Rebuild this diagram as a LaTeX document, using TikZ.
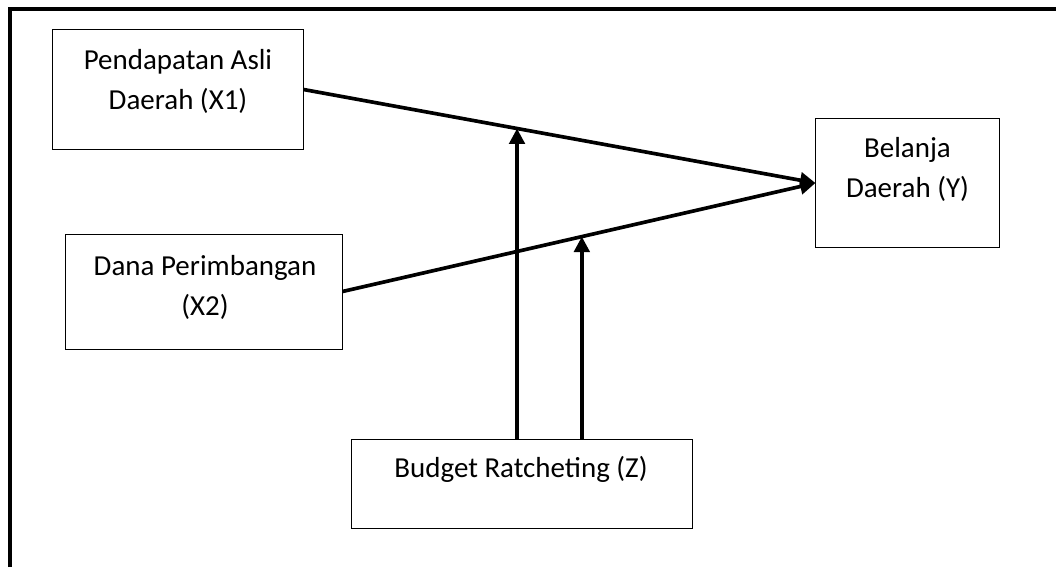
\documentclass[tikz,border=0pt]{standalone}
\usepackage{fontspec}
\setmainfont{Carlito}
\usepackage{tikz}
\usetikzlibrary{positioning}
\usetikzlibrary{calc}
\usetikzlibrary{arrows, arrows.meta}
\tikzstyle{box} = [rectangle, draw=black, line width=0.7pt, inner sep=0pt]
\tikzstyle{txt} = [align=center, inner sep=0pt, font=\fontsize{20.6}{28.4}\selectfont]
\tikzstyle{arrow} = [line width=2.6pt, -{Triangle[length=11pt,width=11pt]}]

\begin{document}
\begin{tikzpicture}[x=0.025cm,y=-0.025cm]
\useasboundingbox (0,0) rectangle (1056,567);
% frame
\draw[line width=2.2pt] (10,567) -- (10,9) -- (1056,9);
% boxes
\node (x1) [box, minimum width=6.25cm, minimum height=2.975cm] at (178,89.5) {};
\node (x2) [box, minimum width=6.9cm, minimum height=2.875cm] at (204,291.5) {};
\node (y) [box, minimum width=4.575cm, minimum height=3.2cm] at (907.5,183) {};
\node (z) [box, minimum width=8.5cm, minimum height=2.225cm] at (522,483.5) {};
\node (x1t) [txt] at (178,81) {Pendapatan Asli\\Daerah (X1)};
\node (x2t) [txt] at (205,287.5) {Dana Perimbangan\\(X2)};
\node (yt) [txt] at (907.5,169) {Belanja\\Daerah (Y)};
\node (zt) [txt] at (521,469) {Budget Ratcheting (Z)};
% main paths
\draw[arrow] (x1.east) -- (y.west) coordinate[pos=0.417] (m1);
\draw[arrow] (x2.east) -- (y.west) coordinate[pos=0.506] (m2);
% moderating arrows
\draw[arrow] (z.north -| m1) -- (m1);
\draw[arrow] (z.north -| m2) -- (m2);
\end{tikzpicture}
\end{document}
